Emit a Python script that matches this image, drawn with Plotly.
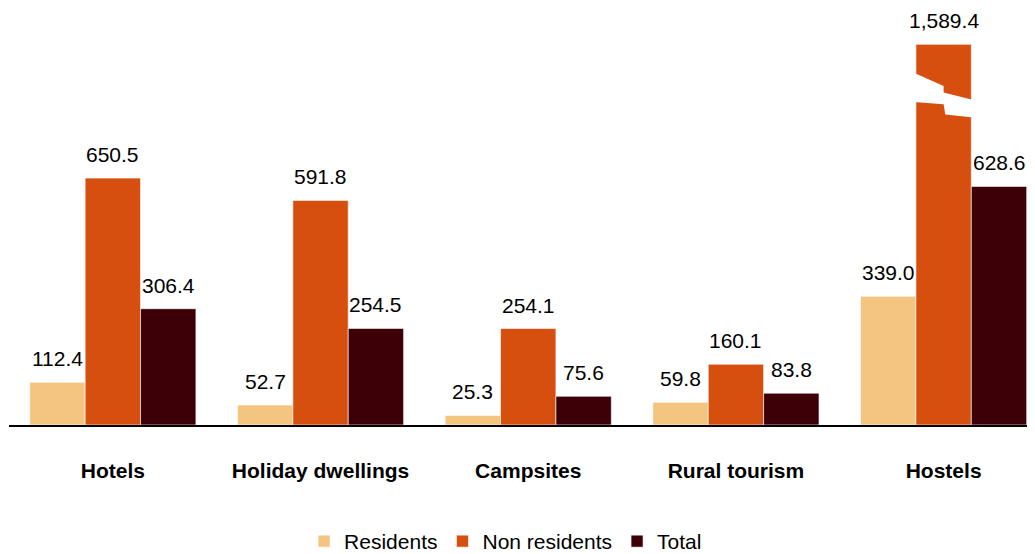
import plotly.graph_objects as go

categories = ["Hotels", "Holiday dwellings", "Campsites", "Rural tourism", "Hostels"]
series_names = ["Residents", "Non residents", "Total"]
residents = [112.4, 52.7, 25.3, 59.8, 339.0]
non_residents = [650.5, 591.8, 254.1, 160.1, 1589.4]
total = [306.4, 254.5, 75.6, 83.8, 628.6]

colors = ["#F4C481", "#D64F0E", "#3C0006"]
CAP = 1003  # axis break: taller bars are drawn cut at this height
FONT = "Liberation Sans, Arial, sans-serif"
FS = 21

series = [residents, non_residents, total]
xs = list(range(len(categories)))
bargap = 0.2
bw = (1 - bargap) / len(series)
offsets = [(j - (len(series) - 1) / 2) * bw for j in range(len(series))]

fig = go.Figure()
annotations = []
for j, (name, vals) in enumerate(zip(series_names, series)):
    shown = [min(v, CAP) for v in vals]
    fig.add_trace(go.Bar(
        x=xs, y=shown, name=name,
        marker=dict(color=colors[j], line=dict(color="white", width=0.6)),
        hoverinfo="skip",
    ))
    for i, (v, s) in enumerate(zip(vals, shown)):
        annotations.append(dict(
            x=i + offsets[j], y=s, xref="x", yref="y",
            text=f"{v:,.1f}", showarrow=False, yanchor="bottom",
            yshift=10, font=dict(family=FONT, size=FS, color="#000000"),
        ))

shapes = []
# break mark on bars exceeding the cap
for j, vals in enumerate(series):
    for i, v in enumerate(vals):
        if v > CAP:
            xl = i + offsets[j] - bw / 2 - 0.01
            xm = i + offsets[j]
            xr = i + offsets[j] + bw / 2 + 0.01
            path = (f"M{xl},928 L{xm},893 L{xm},876 L{xr},856 "
                    f"L{xr},810 L{xm + 0.008},818 L{xm},845 L{xl},851 Z")
            shapes.append(dict(type="path", path=path, xref="x", yref="y",
                               fillcolor="white", line=dict(width=0), layer="above"))

fig.update_layout(
    width=1027, height=554,
    margin=dict(l=1, r=0, t=9, b=129),
    paper_bgcolor="white", plot_bgcolor="white",
    barmode="group", bargap=bargap, bargroupgap=0,
    font=dict(family=FONT, size=FS, color="#000000"),
    showlegend=True,
    legend=dict(orientation="h", x=0.484, xanchor="center", y=-0.286, yanchor="middle",
                font=dict(family=FONT, size=FS, color="#000000"),
                itemwidth=30, tracegroupgap=0),
    annotations=annotations,
    shapes=shapes,
    xaxis=dict(range=[-0.5, 4.44], tickmode="array", tickvals=xs,
               ticktext=[f"<b>{c}</b>" for c in categories],
               tickfont=dict(family=FONT, size=FS, color="#000000"),
               showgrid=False, zeroline=False, showline=True,
               linecolor="#000000", linewidth=2, ticks="", ticklabelstandoff=26),
    yaxis=dict(range=[0, 1075], visible=False, showgrid=False, zeroline=False),
)

fig.write_html("out.html")
